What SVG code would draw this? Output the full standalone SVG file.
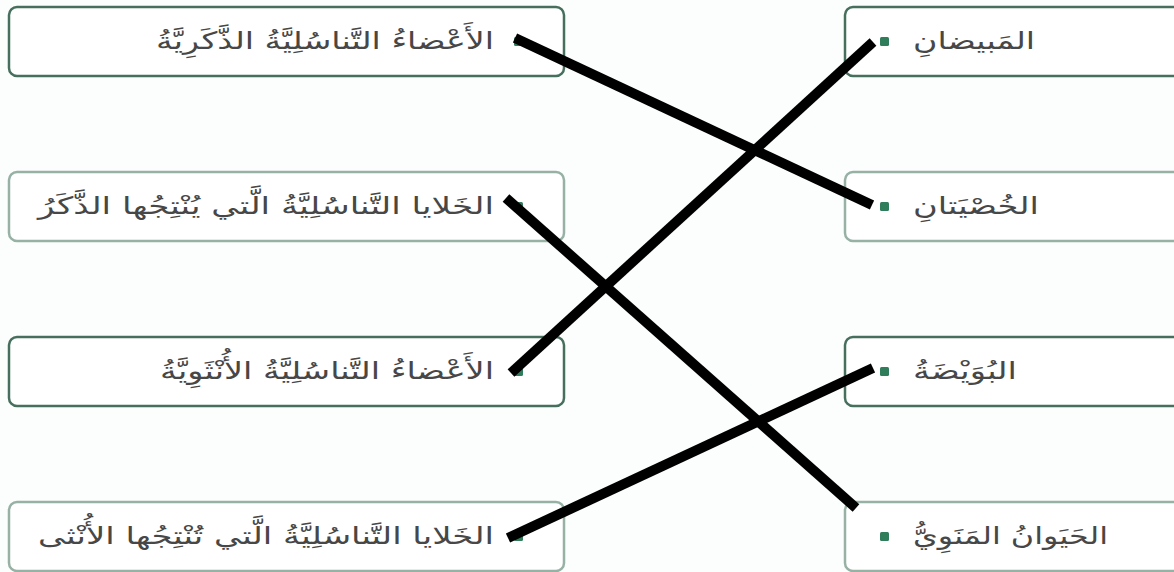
<svg xmlns="http://www.w3.org/2000/svg" width="1174" height="572" viewBox="0 0 1174 572">
<style>
.bd{fill:#ffffff;stroke:#46705d;stroke-width:2.5}
.bl{fill:#ffffff;stroke:#98b1a5;stroke-width:2.5}
.dot{fill:#2f7d5a}
.t{font-family:"DejaVu Sans","Noto Sans",sans-serif;font-size:24px;fill:#474747}
.con line{stroke:#000000;stroke-width:10;stroke-linecap:butt}
</style>
<rect width="1174" height="572" fill="#fcfefd"/>
<g id="left1"><rect class="bd" x="9" y="7" width="555" height="69" rx="8"/><rect class="dot" x="514" y="37" width="9" height="9" rx="1.5"/><text class="t" x="494" y="49" text-anchor="end" textLength="338" lengthAdjust="spacingAndGlyphs">الأَعْضاءُ التَّناسُلِيَّةُ الذَّكَرِيَّةُ</text></g>
<g id="left2"><rect class="bl" x="9" y="172" width="555" height="69" rx="8"/><rect class="dot" x="514" y="202" width="9" height="9" rx="1.5"/><text class="t" x="494" y="214" text-anchor="end" textLength="456" lengthAdjust="spacingAndGlyphs">الخَلايا التَّناسُلِيَّةُ الَّتي يُنْتِجُها الذَّكَرُ</text></g>
<g id="left3"><rect class="bd" x="9" y="337" width="555" height="69" rx="8"/><rect class="dot" x="514" y="367" width="9" height="9" rx="1.5"/><text class="t" x="494" y="379" text-anchor="end" textLength="334" lengthAdjust="spacingAndGlyphs">الأَعْضاءُ التَّناسُلِيَّةُ الأُنْثَوِيَّةُ</text></g>
<g id="left4"><rect class="bl" x="9" y="502" width="555" height="69" rx="8"/><rect class="dot" x="514" y="532" width="9" height="9" rx="1.5"/><text class="t" x="494" y="544" text-anchor="end" textLength="456" lengthAdjust="spacingAndGlyphs">الخَلايا التَّناسُلِيَّةُ الَّتي تُنْتِجُها الأُنْثى</text></g>
<g id="right1"><rect class="bd" x="845" y="7" width="340" height="69" rx="8"/><rect class="dot" x="880" y="37" width="9" height="9" rx="1.5"/><text class="t" x="913" y="49" text-anchor="start" textLength="122" lengthAdjust="spacingAndGlyphs">المَبيضانِ</text></g>
<g id="right2"><rect class="bl" x="845" y="172" width="340" height="69" rx="8"/><rect class="dot" x="880" y="202" width="9" height="9" rx="1.5"/><text class="t" x="913" y="214" text-anchor="start" textLength="126" lengthAdjust="spacingAndGlyphs">الخُصْيَتانِ</text></g>
<g id="right3"><rect class="bd" x="845" y="337" width="340" height="69" rx="8"/><rect class="dot" x="880" y="367" width="9" height="9" rx="1.5"/><text class="t" x="913" y="379" text-anchor="start" textLength="104" lengthAdjust="spacingAndGlyphs">البُوَيْضَةُ</text></g>
<g id="right4"><rect class="bl" x="845" y="502" width="340" height="69" rx="8"/><rect class="dot" x="880" y="532" width="9" height="9" rx="1.5"/><text class="t" x="913" y="544" text-anchor="start" textLength="195" lengthAdjust="spacingAndGlyphs">الحَيَوانُ المَنَوِيُّ</text></g>
<g id="connectors" class="con">
<line x1="515" y1="38" x2="872" y2="205"/>
<line x1="506" y1="198" x2="856" y2="508"/>
<line x1="511" y1="373" x2="873" y2="42"/>
<line x1="508" y1="538" x2="873" y2="368"/>
</g>
</svg>
